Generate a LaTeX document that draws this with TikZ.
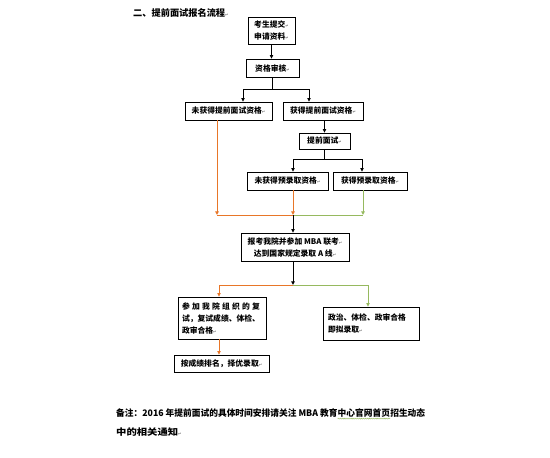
\documentclass[tikz,border=0pt]{standalone}
\usepackage{fontspec}
\setmainfont{Noto Sans CJK SC}
\newfontfamily\dejavu{DejaVu Sans}
\usetikzlibrary{arrows.meta,shadows,decorations.pathmorphing}
\definecolor{orng}{RGB}{232,118,40}
\definecolor{grn}{RGB}{150,185,95}
\newcommand{\pmk}{{\dejavu\fontsize{4}{4}\selectfont\textcolor{black!55}{↵}}}
\newcommand{\gwave}[1]{\tikz[baseline=(gw.base)]{\node[inner sep=0pt, outer sep=0pt] (gw) {#1};
  \draw[grn, line width=0.4pt, decorate, decoration={snake, amplitude=0.5pt, segment length=2pt}]
    ([yshift=-1.2pt]gw.south west) -- ([yshift=-1.2pt]gw.south east);}}
\begin{document}
\begin{tikzpicture}[x=1pt,y=-1pt,
  box/.style={draw=black, line width=0.8pt, fill=white, inner sep=0pt,
    font=\bfseries\fontsize{7.8}{12}\selectfont, align=center,
    drop shadow={shadow xshift=1pt,shadow yshift=-1pt,fill=black!40,opacity=1}},
  arr/.style={-{Triangle[length=3.6pt,width=3.4pt]}, line width=0.9pt},
  ln/.style={line width=0.9pt},
  txt/.style={inner sep=0pt, anchor=west, font=\bfseries\fontsize{9}{12}\selectfont}]
\useasboundingbox (0,0) rectangle (550,458);
\fill[white] (0,0) rectangle (550,458);

% title
\node[txt, font=\bfseries\fontsize{9.2}{12}\selectfont] (title) at (133,13) {二、提前面试报名流程\pmk};

% boxes
\node[box, minimum width=47pt, minimum height=27pt] (b1) at (271.5,30.5) {考生提交\pmk\\申请资料\pmk};
\node[box, minimum width=53pt, minimum height=18pt] (b2) at (272.5,68) {资格审核\pmk};
\node[box, minimum width=87pt, minimum height=18pt] (b3) at (228.5,111) {未获得提前面试资格\pmk};
\node[box, minimum width=80pt, minimum height=18pt] (b4) at (323,111) {获得提前面试资格\pmk};
\node[box, minimum width=51pt, minimum height=16pt] (b5) at (324.5,141) {提前面试\pmk};
\node[box, minimum width=81pt, minimum height=18pt] (b6) at (287.5,181) {未获得预录取资格\pmk};
\node[box, minimum width=74pt, minimum height=18pt] (b7) at (370,181) {获得预录取资格\pmk};
\node[box, minimum width=108pt, minimum height=28pt] (b8) at (295,247) {报考我院并参加 MBA 联考\pmk\\达到国家规定录取 A 线\pmk};
\node[box, minimum width=88pt, minimum height=42pt, text width=80pt, align=left] (b9) at (222,318)
  {\makebox[78pt][s]{参\hfil 加\hfil 我\hfil 院\hfil 组\hfil 织\hfil 的\hfil 复}\\试，复试成绩、体检、\\政审合格\pmk};
\node[box, minimum width=96pt, minimum height=33pt, text width=86pt, align=left] (b10) at (371,323.5)
  {政治、体检、政审合格\\即拟录取\pmk};
\node[box, minimum width=95pt, minimum height=17pt] (b11) at (221.5,363.5) {按成绩排名，择优录取\pmk};

% connectors (black)
\draw[arr] (b1.south) -- (b1.south |- b2.north);
\coordinate (j1) at (272.5,89);
\coordinate (j1L) at (243,89);
\coordinate (j1R) at (309,89);
\draw[ln] (b2.south) -- (j1);
\draw[ln] (j1L) -- (j1R);
\draw[arr] (j1L) -- (j1L |- b3.north);
\draw[arr] (j1R) -- (j1R |- b4.north);
\draw[arr] (b5.north |- b4.south) -- (b5.north);
\coordinate (j2) at (324.5,159);
\coordinate (j2L) at (293,159);
\coordinate (j2R) at (362,159);
\draw[ln] (b5.south) -- (j2);
\draw[ln] (j2L) -- (j2R);
\draw[arr] (j2L) -- (j2L |- b6.north);
\draw[arr] (j2R) -- (j2R |- b7.north);

% merge line
\coordinate (mL) at (217,215);
\coordinate (mM) at (293,215);
\coordinate (mR) at (363,215);
\draw[arr, orng] (b3.south -| mL) -- (mL);
\draw[arr, orng] (b6.south -| mM) -- (mM);
\draw[arr, grn] (b7.south -| mR) -- (mR);
\draw[ln, orng] (mL) -- (mM);
\draw[ln, grn] (mM) -- (mR);
\draw[arr] (mM) -- (mM |- b8.north);

% split
\coordinate (s) at (293,285);
\coordinate (sL) at (219,285);
\coordinate (sR) at (368,285);
\draw[arr] (b8.south -| s) -- (s);
\draw[ln, orng] (s) -- (sL);
\draw[arr, orng] (sL) -- (sL |- b9.north);
\draw[ln, grn] (s) -- (sR);
\draw[arr, grn] (sR) -- (sR |- b10.north);
\draw[arr, orng] (b9.south -| sL) -- (sL |- b11.north);

% footer
\node[txt] (f1) at (116,414) {\resizebox{309pt}{\height}{备注：2016 年提前面试的具体时间安排请关注 MBA 教育\gwave{中心官网首页}招生动态}};
\node[txt] (f2) at (116,432) {\resizebox{62pt}{\height}{中的相关通知}\pmk};
\end{tikzpicture}
\end{document}
